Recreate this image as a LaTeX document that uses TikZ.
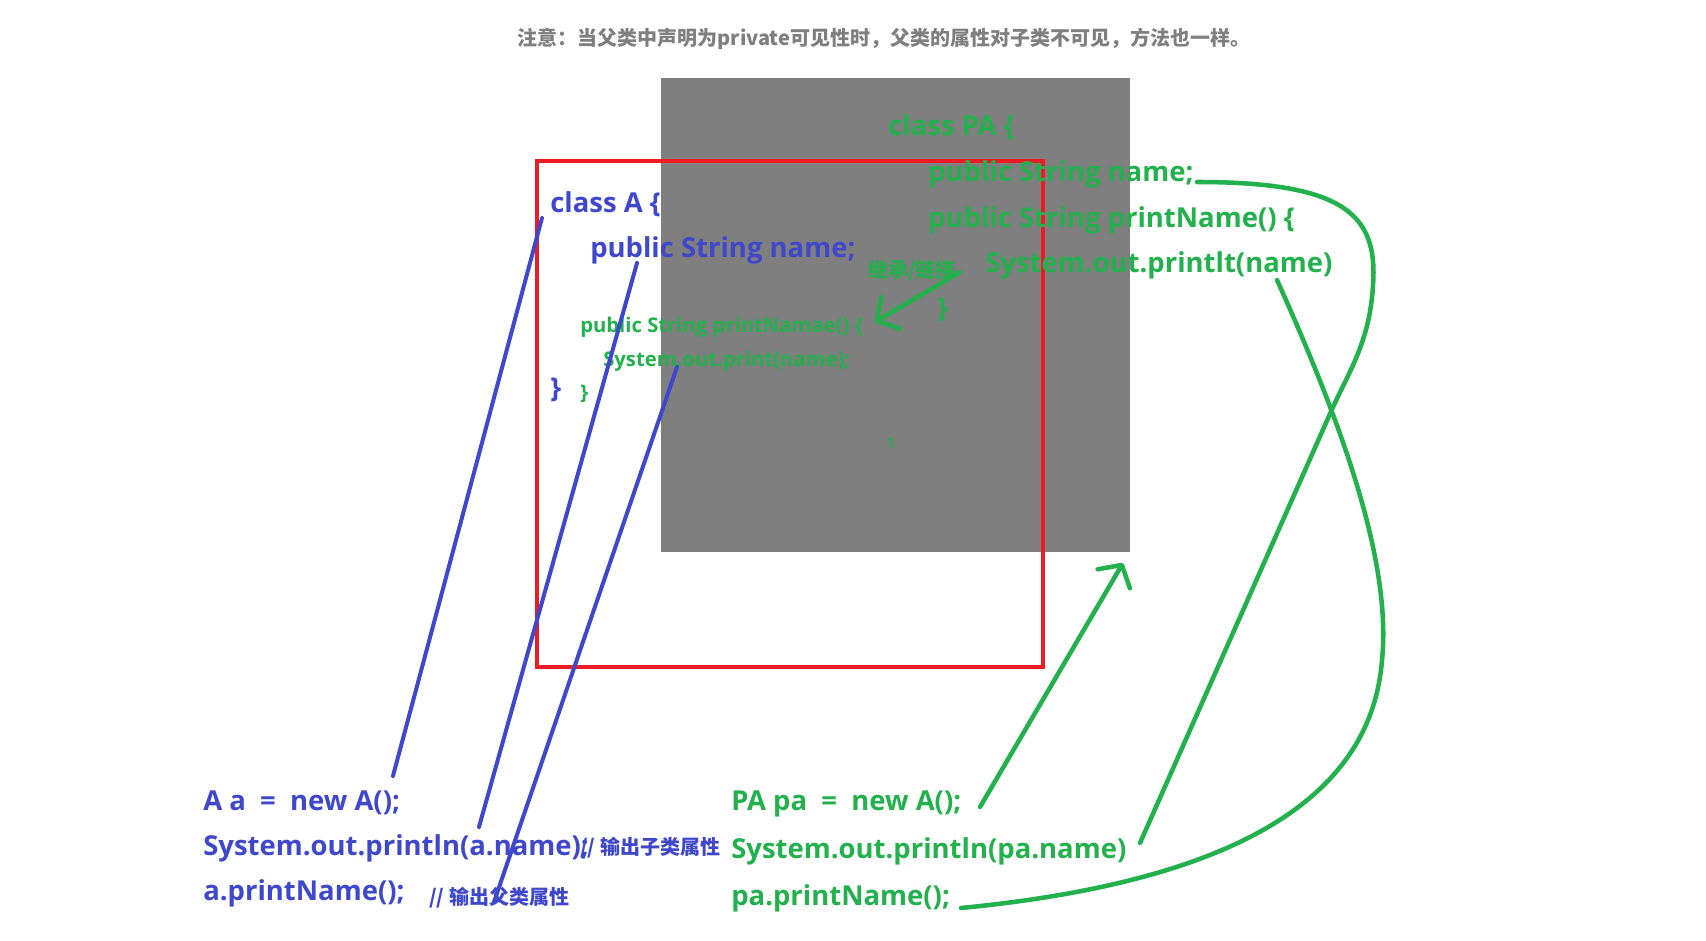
\documentclass[tikz,border=0pt]{standalone}
\usepackage{fontspec}
\setmainfont{Open Sans}
\newfontfamily\cjk{Noto Sans CJK SC}
\usetikzlibrary{arrows.meta}

\definecolor{codeblue}{RGB}{63,72,204}
\definecolor{codegreen}{RGB}{34,177,76}
\definecolor{framered}{RGB}{237,28,36}
\definecolor{boxgray}{RGB}{127,127,127}

\tikzset{
  code/.style={anchor=base west, inner sep=0pt, font=\bfseries\fontsize{20.6}{24}\selectfont},
  smallcode/.style={anchor=base west, inner sep=0pt, font=\bfseries\fontsize{15.2}{18}\selectfont},
  remark/.style={anchor=base west, inner sep=0pt, font=\cjk\bfseries\fontsize{15}{18}\selectfont},
  bluelink/.style={draw=codeblue, line width=3pt, line cap=round},
  greenlink/.style={draw=codegreen, line width=3.4pt, line cap=round, line join=round},
  barb/.tip={Straight Barb[length=12pt, width=28pt, round]}
}

\begin{document}
\begin{tikzpicture}[x=0.75pt, y=-0.75pt]
	\useasboundingbox (0,0) rectangle (1706,941);
	\fill[white] (0,0) rectangle (1706,941);

	% Tittel
		\node[anchor=base, inner sep=0pt, text=boxgray, font=\cjk\bfseries\fontsize{15}{18}\selectfont] (note) at (884,46)
			{注意：当父类中声明为private可见性时，父类的属性对子类不可见，方法也一样。};

	% Boksene
		\fill[boxgray] (661,78) rectangle (1130,552);
		\draw[framered, line width=3pt] (537,161) rectangle (1043,667);

	% class A
		\node[code, text=codeblue] (classA) at (550,213) {class A \{};
		\node[code, text=codeblue] (nameA) at (590,258) {public String name;};
		\node[smallcode, text=codegreen] (printA) at (580,332) {public String printNamae() \{};
		\node[smallcode, text=codegreen] (bodyA) at (603,366) {System.out.print(name);};
		\node[code, text=codeblue] (endA) at (550,397) {\}};
		\node[smallcode, text=codegreen] (endprintA) at (580,399) {\}};

	% class PA
		\node[code, text=codegreen] (classPA) at (888,136) {class PA \{};
		\node[code, text=codegreen] (namePA) at (928,182) {public String name;};
		\node[code, text=codegreen] (printPA) at (928,228) {public String printName() \{};
		\node[code, text=codegreen] (bodyPA) at (985,273) {System.out.printlt(name)};
		\node[code, text=codegreen] (endprintPA) at (937,318) {\}};
		\node[remark, text=codegreen] (inherit) at (868,277) {继承/链接};
		\draw[codegreen, line width=1.5pt] (888,439) -- (891,439) -- (892,448);

	% main
		\node[code, text=codeblue] (newA) at (203,810) {A a \ = \ new A();};
		\node[code, text=codeblue] (printlnA) at (203,855) {System.out.println(a.name);};
		\node[remark, text=codeblue] (commentSub) at (580,854) {// 输出子类属性};
		\node[code, text=codeblue] (callA) at (203,900) {a.printName();};
		\node[remark, text=codeblue] (commentSuper) at (429,904) {// 输出父类属性};

		\node[code, text=codegreen] (newPA) at (731,810) {PA pa \ = \ new A();};
		\node[code, text=codegreen] (printlnPA) at (731,858) {System.out.println(pa.name)};
		\node[code, text=codegreen] (callPA) at (731,905) {pa.printName();};

	% Linjer
		\coordinate (a1) at (542,218); \coordinate (a2) at (393,776);
		\coordinate (b1) at (637,263); \coordinate (b2) at (479,827);
		\coordinate (c1) at (677,367); \coordinate (c2) at (494,902);
		\draw[bluelink] (a1) -- (a2);
		\draw[bluelink] (b1) -- (b2);
		\draw[bluelink] (c1) -- (c2);

		\coordinate (e1) at (960,272); \coordinate (e2) at (875,322);
		\draw[greenlink, -barb] (e1) -- (e2);

		\coordinate (d1) at (980,807); \coordinate (d2) at (1123,563);
		\draw[greenlink, -barb] (d1) -- (d2);

		\coordinate (f1) at (1197,182); \coordinate (f2) at (1140,843);
		\draw[greenlink] (f1) .. controls (1345,182) and (1378,215) .. (1373,285)
			.. controls (1370,340) and (1350,370) .. (1333,407) -- (f2);

		\coordinate (g1) at (1277,280); \coordinate (g2) at (961,908);
		\draw[greenlink] (g1) .. controls (1340,420) and (1392,560) .. (1382,660)
			.. controls (1372,790) and (1250,880) .. (g2);
\end{tikzpicture}
\end{document}
